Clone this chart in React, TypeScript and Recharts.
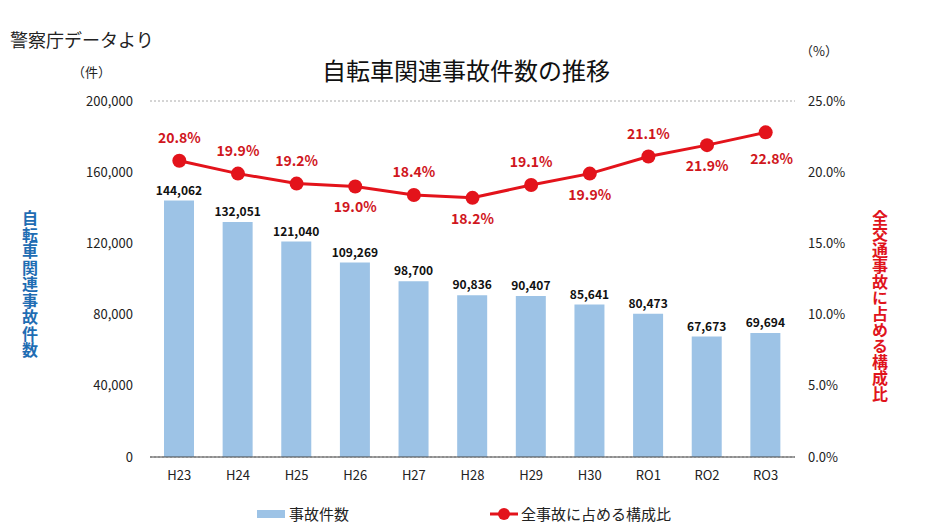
import {
  ComposedChart,
  Bar,
  Line,
  XAxis,
  YAxis,
  CartesianGrid,
  LabelList,
  Legend,
} from 'recharts';

const years = ['H23', 'H24', 'H25', 'H26', 'H27', 'H28', 'H29', 'H30', 'RO1', 'RO2', 'RO3'];
const accidents = [144062, 132051, 121040, 109269, 98700, 90836, 90407, 85641, 80473, 67673, 69694];
const shares = [20.8, 19.9, 19.2, 19.0, 18.4, 18.2, 19.1, 19.9, 21.1, 21.9, 22.8];
const leftTicks = [0, 40000, 80000, 120000, 160000, 200000];
const rightTicks = [0, 5, 10, 15, 20, 25];
// which percentage labels sit under the point
const labelBelow = [false, false, false, true, false, true, false, true, false, true, true];

const data = years.map((y, i) => ({ year: y, count: accidents[i], share: shares[i] }));

const JP = '"Noto Sans CJK JP", "Noto Sans", sans-serif';
const BLUE = '#9dc3e6';
const RED = '#e3131b';

const ShareLabel = (props: any) => {
  const { x, y, index, value } = props;
  const below = labelBelow[index];
  const last = index === shares.length - 1;
  return (
    <text
      x={last ? x + 6 : x}
      y={below ? y + (last ? 32 : 26) : y - 18}
      textAnchor="middle"
      fill="#d0161d"
      fontSize={14}
      fontWeight={700}
      fontFamily={JP}
    >
      {Number(value).toFixed(1)}%
    </text>
  );
};

const LegendBox = () => (
  <div style={{ position: 'relative', height: 20, fontFamily: JP, fontSize: 15, color: '#222' }}>
    <div style={{ position: 'absolute', left: 257, top: 6, width: 28, height: 8, background: BLUE }} />
    <div style={{ position: 'absolute', left: 289, top: -1 }}>事故件数</div>
    <svg style={{ position: 'absolute', left: 488, top: 0 }} width={32} height={20}>
      <line x1={2} y1={10} x2={30} y2={10} stroke={RED} strokeWidth={3} />
      <circle cx={16} cy={10} r={6} fill={RED} />
    </svg>
    <div style={{ position: 'absolute', left: 521, top: -1 }}>全事故に占める構成比</div>
  </div>
);

export default function App() {
  return (
    <div style={{ position: 'absolute', left: 0, top: 0, width: 932, height: 528, background: '#fff', fontFamily: JP }}>
      <div style={{ position: 'absolute', left: 10, top: 26, fontSize: 18, color: '#222' }}>警察庁データより</div>
      <div style={{ position: 'absolute', left: 0, width: 932, top: 52, textAlign: 'center', fontSize: 24, fontWeight: 400, color: '#111' }}>
        自転車関連事故件数の推移
      </div>
      <div style={{ position: 'absolute', left: 72, top: 62, fontSize: 13, color: '#222' }}>（件）</div>
      <div style={{ position: 'absolute', left: 800, top: 41, fontSize: 13, color: '#222' }}>（%）</div>
      <div
        style={{
          position: 'absolute',
          left: 20,
          top: 210,
          writingMode: 'vertical-rl',
          textOrientation: 'upright',
          fontSize: 16,
          lineHeight: '20px',
          fontWeight: 700,
          color: '#1f6db3',
          letterSpacing: 0.5,
        }}
      >
        自転車関連事故件数
      </div>
      <div
        style={{
          position: 'absolute',
          left: 870,
          top: 210,
          writingMode: 'vertical-rl',
          textOrientation: 'upright',
          fontSize: 16,
          lineHeight: '20px',
          fontWeight: 700,
          color: '#e0141c',
          letterSpacing: 0,
        }}
      >
        全交通事故に占める構成比
      </div>
      <ComposedChart
        width={932}
        height={528}
        data={data}
        margin={{ top: 101, right: 77, bottom: 16, left: 80 }}
        barCategoryGap={14}
      >
        <CartesianGrid vertical={false} stroke="#aaa" strokeDasharray="2 2" />
        <XAxis
          dataKey="year"
          stroke="#444"
          tickLine={false}
          tickSize={0}
          tickMargin={14}
          tick={{ fill: '#222', fontSize: 13, fontFamily: JP }}
          height={35}
        />
        <YAxis
          yAxisId="left"
          domain={[0, 200000]}
          ticks={leftTicks}
          axisLine={false}
          tickLine={false}
          tickSize={0}
          tickMargin={17}
          width={70}
          tickFormatter={(v: number) => v.toLocaleString('en-US')}
          tick={{ fill: '#222', fontSize: 13, fontFamily: JP }}
        />
        <YAxis
          yAxisId="right"
          orientation="right"
          domain={[0, 25]}
          ticks={rightTicks}
          axisLine={false}
          tickLine={false}
          tickSize={0}
          tickMargin={13}
          width={60}
          tickFormatter={(v: number) => v.toFixed(1) + '%'}
          tick={{ fill: '#222', fontSize: 13, fontFamily: JP }}
        />
        <Legend verticalAlign="bottom" content={<LegendBox />} wrapperStyle={{ left: 0, bottom: 4, width: 932 }} />
        <Bar yAxisId="left" dataKey="count" fill={BLUE} barSize={30} isAnimationActive={false}>
          <LabelList
            dataKey="count"
            position="top"
            offset={6}
            formatter={(v: any) => Number(v).toLocaleString('en-US')}
            style={{ fill: '#111', fontSize: 12, fontWeight: 700, fontFamily: JP }}
          />
        </Bar>
        <Line
          yAxisId="right"
          dataKey="share"
          stroke={RED}
          strokeWidth={3}
          dot={{ r: 7, fill: RED, stroke: RED, strokeWidth: 0 }}
          isAnimationActive={false}
        >
          <LabelList dataKey="share" content={<ShareLabel />} />
        </Line>
      </ComposedChart>
    </div>
  );
}
